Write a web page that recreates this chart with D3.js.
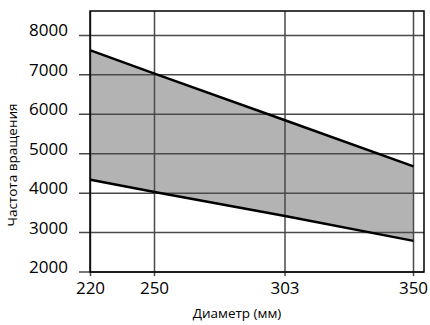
<!DOCTYPE html>
<html><head><meta charset="utf-8">
<script src="https://cdn.jsdelivr.net/npm/d3@7"></script>
<style>body{margin:0;background:#fff}svg{display:block}text{font-family:"Open Sans",sans-serif}</style>
</head><body><div id="chart"></div>
<script>
const diameters = [220, 250, 303, 350];
const upperSpeed = [7620, 7030, 5850, 4680];
const lowerSpeed = [4340, 4030, 3420, 2790];
const yTicks = [2000, 3000, 4000, 5000, 6000, 7000, 8000];
const xTickLabels = ["220", "250", "303", "350"];
const xTitle = "Диаметр (мм)";
const yTitle = "Частота вращения";

const W = 430, H = 325;
const plot = {left: 90, top: 11, right: 424, bottom: 272};
const svg = d3.select("#chart").append("svg").attr("width", W).attr("height", H);

const x = d3.scaleLinear().domain(diameters).range([90.5, 154.5, 285, 413.5]);
const y = d3.scaleLinear().domain([2000, 8620]).range([plot.bottom, plot.top]);

const data = diameters.map((d, i) => ({d, hi: upperSpeed[i], lo: lowerSpeed[i]}));

// area
svg.append("path").datum(data)
  .attr("fill", "#b3b3b3")
  .attr("d", d3.area().x(p => x(p.d)).y0(p => y(p.lo)).y1(p => y(p.hi)));

// grid horizontal
svg.append("g").selectAll("line").data(yTicks).join("line")
  .attr("x1", plot.left - 11).attr("x2", plot.right)
  .attr("y1", d => y(d)).attr("y2", d => y(d))
  .attr("stroke", "#4a4a4a").attr("stroke-width", 1.5);
// grid vertical
svg.append("g").selectAll("line").data(diameters).join("line")
  .attr("x1", d => x(d)).attr("x2", d => x(d))
  .attr("y1", plot.top).attr("y2", plot.bottom + 4)
  .attr("stroke", "#4a4a4a").attr("stroke-width", 1.5);

// border
svg.append("rect").attr("x", plot.left).attr("y", plot.top)
  .attr("width", plot.right - plot.left).attr("height", plot.bottom - plot.top)
  .attr("fill", "none").attr("stroke", "#000").attr("stroke-width", 1.5);

// lines
const lineHi = d3.line().x(p => x(p.d)).y(p => y(p.hi));
const lineLo = d3.line().x(p => x(p.d)).y(p => y(p.lo));
svg.append("path").datum(data).attr("d", lineHi).attr("fill", "none").attr("stroke", "#000").attr("stroke-width", 2.5);
svg.append("path").datum(data).attr("d", lineLo).attr("fill", "none").attr("stroke", "#000").attr("stroke-width", 2.5);

// y tick labels
svg.append("g").selectAll("text").data(yTicks).join("text")
  .attr("x", 68).attr("y", d => y(d) + 1)
  .attr("text-anchor", "end").attr("font-size", 17).attr("fill", "#000")
  .text(d => d);

// x tick labels
svg.append("g").selectAll("text").data(diameters).join("text")
  .attr("x", d => x(d)).attr("y", 294)
  .attr("text-anchor", "middle").attr("font-size", 17).attr("fill", "#000")
  .text((d, i) => xTickLabels[i]);

// titles
svg.append("text").attr("x", 237).attr("y", 318).attr("text-anchor", "middle")
  .attr("font-size", 13.5).attr("fill", "#000").text(xTitle);
svg.append("text").attr("transform", "translate(17,165) rotate(-90)").attr("text-anchor", "middle")
  .attr("font-size", 13.5).attr("fill", "#000").text(yTitle);
</script></body></html>
